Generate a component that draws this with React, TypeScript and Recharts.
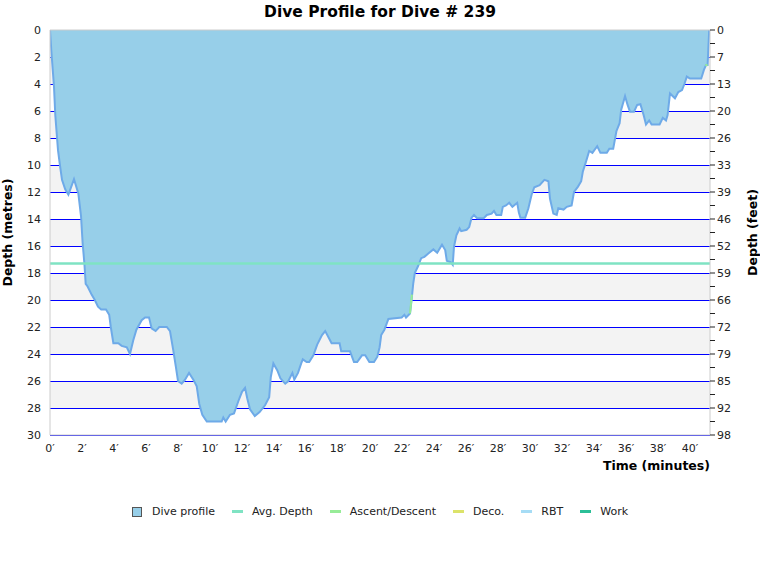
import React from 'react';
import { ComposedChart, Area, Line, XAxis, YAxis, CartesianGrid, ReferenceLine, Label } from 'recharts';

// dive profile samples, time in minutes and depth in metres
const times = [
  0, 0.08, 0.25, 0.33, 0.5, 0.62, 0.75, 0.95, 1.15, 1.5, 1.77, 1.94, 2.04, 2.15, 2.23, 2.35, 2.6, 2.8,
  3.0, 3.2, 3.5, 3.7, 3.8, 3.96, 4.27, 4.48, 4.8, 5.0, 5.2, 5.4, 5.73, 5.94, 6.19, 6.35, 6.6, 6.83,
  7.3, 7.5, 7.7, 7.86, 8.0, 8.23, 8.44, 8.69, 8.96, 9.17, 9.33, 9.52, 9.8, 10.73, 10.83, 10.98,
  11.25, 11.5, 11.77, 12.0, 12.19, 12.33, 12.5, 12.8, 13.1, 13.44, 13.7, 13.8, 13.96, 14.2, 14.4,
  14.7, 14.9, 15.15, 15.27, 15.5, 15.7, 15.8, 16.04, 16.2, 16.46, 16.7, 17.0, 17.2, 17.6, 18.1,
  18.2, 18.75, 19.0, 19.2, 19.5, 19.7, 19.96, 20.25, 20.46, 20.6, 20.7, 20.9, 21.15, 21.98, 22.15,
  22.25, 22.5, 22.6, 22.7, 22.8, 23.0, 23.2, 23.4, 23.7, 23.96, 24.2, 24.5, 24.7, 24.8, 25.04,
  25.17, 25.25, 25.4, 25.6, 25.7, 26.04, 26.2, 26.35, 26.5, 26.7, 27.1, 27.3, 27.6, 27.75, 27.9,
  28.2, 28.3, 28.5, 28.7, 28.9, 29.2, 29.3, 29.4, 29.7, 29.9, 30.1, 30.27, 30.6, 30.9, 31.15,
  31.25, 31.46, 31.67, 31.77, 32.1, 32.3, 32.6, 32.75, 33.0, 33.2, 33.3, 33.5, 33.7, 33.9, 34.2,
  34.4, 34.8, 34.96, 35.2, 35.4, 35.6, 35.7, 35.94, 36.1, 36.25, 36.5, 36.7, 36.9, 37.1, 37.25,
  37.45, 37.6, 38.1, 38.3, 38.5, 38.6, 38.75, 39.06, 39.27, 39.5, 39.65, 39.8, 40.0, 40.7, 40.87,
  41.0, 41.1, 41.2,
];
const depths = [
  0, 1.5, 4.2, 6.3, 8.9, 10.0, 11.1, 11.8, 12.2, 11.05, 12.1, 13.8, 15.8, 17.3, 18.8, 19.0, 19.6, 20.0,
  20.5, 20.7, 20.7, 21.1, 22.0, 23.2, 23.2, 23.4, 23.5, 24.0, 23.0, 22.2, 21.5, 21.3, 21.3, 22.1, 22.3, 22.0,
  22.0, 22.3, 23.7, 24.9, 26.0, 26.2, 25.9, 25.4, 25.9, 26.4, 27.7, 28.5, 29.0, 29.0, 28.7, 29.0,
  28.5, 28.4, 27.5, 26.8, 26.5, 27.3, 28.1, 28.6, 28.3, 27.8, 27.2, 25.7, 24.7, 25.2, 25.8,
  26.2, 26.0, 25.4, 25.9, 25.4, 24.7, 24.4, 24.6, 24.6, 24.1, 23.3, 22.6, 22.3, 23.2, 23.2,
  23.8, 23.8, 24.6, 24.6, 24.1, 24.1, 24.6, 24.6, 24.2, 23.5, 22.6, 22.2, 21.4, 21.3, 21.1,
  21.3, 21.0, 20.0, 18.8, 18.0, 17.5, 16.9, 16.8, 16.5, 16.25, 16.5, 15.9, 16.3, 17.1, 17.2,
  17.4, 16.05, 15.2, 14.7, 14.9, 14.8, 14.6, 13.9, 13.7, 13.95, 13.95, 13.7, 13.6, 13.4, 13.7,
  13.7, 13.1, 13.0, 12.8, 13.1, 12.8, 13.5, 13.9, 13.9, 13.2, 12.2, 11.65, 11.5, 11.1, 11.2,
  12.5, 13.6, 13.7, 13.2, 13.3, 13.1, 13.0, 12.0, 11.6, 11.2, 10.5, 9.75, 8.96, 9.1, 8.6,
  9.1, 9.1, 8.8, 8.8, 7.5, 6.9, 5.9, 4.9, 5.55, 6.05, 6.05, 5.55, 5.5, 6.3, 7.0,
  6.7, 7.0, 7.0, 6.5, 6.7, 6.3, 4.7, 5.06, 4.6, 4.45, 4.0, 3.45, 3.6, 3.6, 2.96,
  2.6, 2.6, 0,
];

// fast ascent segments
const ascentTimesA = [22.5, 22.62];
const ascentDepthsA = [21.0, 19.6];
const ascentTimesB = [40.95, 41.1];
const ascentDepthsB = [2.6, 2.6];

const avgDepth = 17.3;

const timeTicks = [0, 2, 4, 6, 8, 10, 12, 14, 16, 18, 20, 22, 24, 26, 28, 30, 32, 34, 36, 38, 40];
const depthTicks = [0, 2, 4, 6, 8, 10, 12, 14, 16, 18, 20, 22, 24, 26, 28, 30];
const feetTicks = Array.from({ length: 31 }, (_, i) => i);
const feetLabels = ['0', '7', '13', '20', '26', '33', '39', '46', '52', '59', '66', '72', '79', '85', '92', '98'];

const legendItems = [
  { name: 'Dive profile', color: '#97cfe9', box: true },
  { name: 'Avg. Depth', color: '#7fe3c3' },
  { name: 'Ascent/Descent', color: '#97ec98' },
  { name: 'Deco.', color: '#dce36a' },
  { name: 'RBT', color: '#a6dcf5' },
  { name: 'Work', color: '#2bbf97' },
];

const profile = times.map((t, i) => ({ time: t, depth: depths[i] }));
const ascentA = ascentTimesA.map((t, i) => ({ time: t, depth: ascentDepthsA[i] }));
const ascentB = ascentTimesB.map((t, i) => ({ time: t, depth: ascentDepthsB[i] }));

const font = '"DejaVu Sans", Verdana, sans-serif';
const tickStyle = { fill: '#222', fontSize: 11, fontFamily: font };
const labelStyle = { fontSize: 12.5, fontWeight: 'bold', fontFamily: font, fill: '#000', textAnchor: 'middle' as const };

export default function App() {
  return (
    <div style={{ position: 'absolute', left: 0, top: 0, width: 760, height: 580, background: '#fff', fontFamily: font }}>
      <div style={{ position: 'absolute', top: 3, left: 0, width: 760, textAlign: 'center', fontWeight: 'bold', fontSize: 15.5 }}>
        Dive Profile for Dive # 239
      </div>
      <ComposedChart width={760} height={580} margin={{ top: 30, right: 0, left: 0, bottom: 110 }}>
        <CartesianGrid
          vertical={false}
          stroke="#0000ff"
          strokeWidth={1}
          shapeRendering="crispEdges"
          horizontalFill={['#ffffff', '#f3f3f3']}
        />
        <XAxis
          type="number"
          dataKey="time"
          domain={[0, 41.25]}
          ticks={timeTicks}
          tickFormatter={(v) => `${v}\u2032`}
          tickSize={0}
          tickMargin={9}
          height={35}
          tick={tickStyle}
          axisLine={{ stroke: '#ccc' }}
          allowDataOverflow
        >
          <Label value="Time (minutes)" position="insideBottomRight" offset={0} style={{ ...labelStyle, textAnchor: 'end' }} />
        </XAxis>
        <YAxis
          type="number"
          domain={[0, 30]}
          reversed
          ticks={depthTicks}
          width={50}
          tickSize={0}
          tickMargin={9}
          tick={tickStyle}
          axisLine={{ stroke: '#ccc' }}
        >
          <Label value="Depth (metres)" angle={-90} position="insideLeft" offset={8} style={labelStyle} />
        </YAxis>
        <YAxis
          yAxisId="ft"
          orientation="right"
          type="number"
          domain={[0, 30]}
          reversed
          ticks={feetTicks}
          interval={0}
          tickFormatter={(v) => (v % 2 === 0 ? feetLabels[v / 2] : '')}
          width={50}
          tickSize={5}
          tickMargin={2}
          tick={tickStyle}
          tickLine={{ stroke: '#222' }}
          axisLine={{ stroke: '#ccc' }}
        >
          <Label value="Depth (feet)" angle={-90} position="insideRight" offset={7} style={labelStyle} />
        </YAxis>
        <Area
          data={profile}
          dataKey="depth"
          type="linear"
          stroke="#6eaae8"
          strokeWidth={2}
          fill="#97cfe9"
          fillOpacity={1}
          dot={false}
          activeDot={false}
          isAnimationActive={false}
        />
        <Line data={ascentA} yAxisId="ft" dataKey="depth" type="linear" stroke="#97ec98" strokeWidth={2} dot={false} activeDot={false} isAnimationActive={false} />
        <Line data={ascentB} yAxisId="ft" dataKey="depth" type="linear" stroke="#97ec98" strokeWidth={2} dot={false} activeDot={false} isAnimationActive={false} />
        <ReferenceLine y={avgDepth} stroke="#7fe3c3" strokeWidth={2.5} />
        <ReferenceLine y={0} stroke="#ccc" strokeWidth={1} />
      </ComposedChart>
      <div
        style={{
          position: 'absolute',
          top: 505,
          left: 0,
          width: 760,
          display: 'flex',
          justifyContent: 'center',
          alignItems: 'center',
          gap: 17,
          fontSize: 11,
          color: '#222',
        }}
      >
        {legendItems.map((item) => (
          <div key={item.name} style={{ display: 'flex', alignItems: 'center' }}>
            {item.box ? (
              <span style={{ width: 8, height: 8, background: item.color, border: '1px solid #555', marginRight: 10 }} />
            ) : (
              <span style={{ width: 11, height: 3, background: item.color, marginRight: 9 }} />
            )}
            <span>{item.name}</span>
          </div>
        ))}
      </div>
    </div>
  );
}
